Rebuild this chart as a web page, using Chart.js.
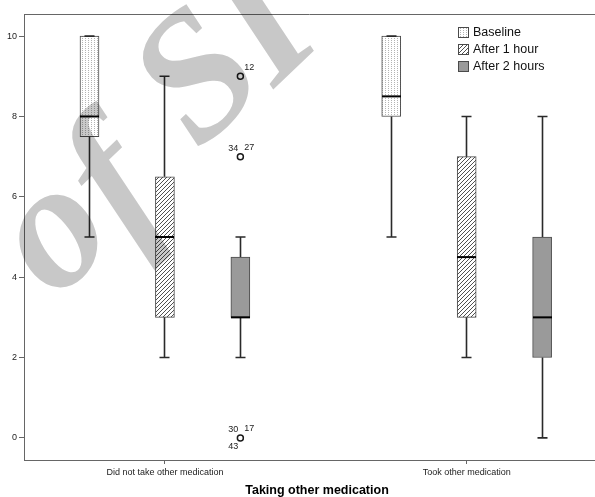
<!DOCTYPE html>
<html>
<head>
<meta charset="utf-8">
<script src="https://cdn.jsdelivr.net/npm/chart.js@4.4.0/dist/chart.umd.min.js"></script>
<style>
html, body { margin: 0; padding: 0; background: #fff; }
#wrap { width: 595px; height: 497px; }
</style>
</head>
<body>
<div id="wrap"><canvas id="chart"></canvas></div>
<script>
// categorias y series
const groups = ['Did not take other medication', 'Took other medication'];
const seriesNames = ['Baseline', 'After 1 hour', 'After 2 hours'];
// [min, q1, mediana, q3, max] por grupo
const baseline = [[5, 7.5, 8, 10, 10], [5, 8, 8.5, 10, 10]];
const after1h = [[2, 3, 5, 6.5, 9], [2, 3, 4.5, 7, 8]];
const after2h = [[2, 3, 3, 4.5, 5], [0, 2, 3, 5, 8]];
// valores atipicos (grupo 1, After 2 hours)
const outlierValues = [9, 7, 0];
const outlierCases = [['12'], ['34', '27'], ['30', '17', '43']];
const yTicks = [0, 2, 4, 6, 8, 10];
const xTitle = 'Taking other medication';
const watermark = ['o', 'f', 'S', 'I'];

const summaries = [baseline, after1h, after2h];
const offsets = [-0.25, 0, 0.25];
const BOX_W = 19;

function dotPattern() {
    const c = document.createElement('canvas');
    c.width = 3; c.height = 2;
    const g = c.getContext('2d');
    g.fillStyle = '#fff'; g.fillRect(0, 0, 3, 2);
    g.fillStyle = '#b4b4b4'; g.fillRect(1, 0, 1, 1);
    return g.createPattern(c, 'repeat');
}

function hatchPattern() {
    const c = document.createElement('canvas');
    c.width = 4; c.height = 4;
    const g = c.getContext('2d');
    g.fillStyle = '#fff'; g.fillRect(0, 0, 4, 4);
    g.strokeStyle = '#505050'; g.lineWidth = 1;
    g.beginPath();
    g.moveTo(0, 4); g.lineTo(4, 0);
    g.moveTo(-1, 1); g.lineTo(1, -1);
    g.moveTo(3, 5); g.lineTo(5, 3);
    g.stroke();
    return g.createPattern(c, 'repeat');
}

const fills = [dotPattern(), hatchPattern(), '#9a9a9a'];

const datasets = summaries.map((s, i) => ({
    type: 'bar',
    label: seriesNames[i],
    data: s.map((v, g) => ({x: g + 1 + offsets[i], y: [v[1], v[3]]})),
    backgroundColor: fills[i],
    borderColor: '#4a4a4a',
    borderWidth: 1,
    borderSkipped: false,
    barThickness: BOX_W,
    grouped: false
}));
datasets.push({
    type: 'scatter',
    label: 'outliers',
    data: outlierValues.map(v => ({x: 1 + offsets[2], y: v})),
    pointStyle: 'circle',
    radius: 3,
    borderColor: '#1a1a1a',
    borderWidth: 1.5,
    backgroundColor: 'rgba(0,0,0,0)'
});

const crisp = v => Math.round(v) + 0.5;

const boxPlugin = {
    id: 'boxExtras',
    afterDatasetsDraw(chart) {
        const {ctx, scales: {x, y}, chartArea} = chart;
        ctx.save();
        // marco: arriba y prolongacion del eje x hasta el borde
        ctx.strokeStyle = '#666'; ctx.lineWidth = 1;
        ctx.beginPath();
        ctx.moveTo(chartArea.left, crisp(chartArea.top));
        ctx.lineTo(chart.width, crisp(chartArea.top));
        ctx.moveTo(chartArea.right - 1, crisp(chartArea.bottom));
        ctx.lineTo(chart.width, crisp(chartArea.bottom));
        ctx.stroke();

        summaries.forEach((s, i) => s.forEach((v, g) => {
            const cx = crisp(x.getPixelForValue(g + 1 + offsets[i]) - 0.5);
            const yMin = y.getPixelForValue(v[0]);
            const yQ1 = y.getPixelForValue(v[1]);
            const yMed = y.getPixelForValue(v[2]);
            const yQ3 = y.getPixelForValue(v[3]);
            const yMax = y.getPixelForValue(v[4]);
            ctx.strokeStyle = '#2a2a2a'; ctx.lineWidth = 1.6;
            ctx.beginPath();
            ctx.moveTo(cx, yQ3); ctx.lineTo(cx, yMax);
            ctx.moveTo(cx, yQ1); ctx.lineTo(cx, yMin);
            ctx.moveTo(cx - 5, yMax); ctx.lineTo(cx + 5, yMax);
            ctx.moveTo(cx - 5, yMin); ctx.lineTo(cx + 5, yMin);
            ctx.stroke();
            ctx.strokeStyle = '#000'; ctx.lineWidth = 2;
            ctx.beginPath();
            ctx.moveTo(cx - BOX_W / 2, yMed); ctx.lineTo(cx + BOX_W / 2, yMed);
            ctx.stroke();
        }));

        // etiquetas de casos atipicos
        ctx.fillStyle = '#222';
        ctx.font = '9px "Liberation Sans", Arial, sans-serif';
        outlierValues.forEach((v, k) => {
            const px = x.getPixelForValue(1 + offsets[2]);
            const py = y.getPixelForValue(v);
            const ids = outlierCases[k];
            if (ids.length === 1) {
                ctx.textAlign = 'left'; ctx.textBaseline = 'bottom';
                ctx.fillText(ids[0], px + 4, py - 4);
            } else {
                ctx.textAlign = 'right'; ctx.textBaseline = 'bottom';
                ctx.fillText(ids[0], px - 2, py - 4);
                ctx.textAlign = 'left';
                ctx.fillText(ids[1], px + 4, py - 5);
                if (ids[2]) {
                    ctx.textAlign = 'right'; ctx.textBaseline = 'top';
                    ctx.fillText(ids[2], px - 2, py + 4);
                }
            }
        });
        ctx.restore();
    },
    afterDraw(chart) {
        const {ctx} = chart;
        ctx.save();
        // leyenda
        ctx.font = '12.5px "Liberation Sans", Arial, sans-serif';
        ctx.textAlign = 'left'; ctx.textBaseline = 'middle';
        seriesNames.forEach((name, i) => {
            const top = 27 + i * 17;
            ctx.fillStyle = fills[i];
            ctx.fillRect(458, top, 10, 10);
            ctx.strokeStyle = '#4a4a4a'; ctx.lineWidth = 1;
            ctx.strokeRect(458.5, top + 0.5, 10, 10);
            ctx.fillStyle = '#111';
            ctx.fillText(name, 473, top + 6);
        });
        // titulo del eje x
        ctx.font = 'bold 12.5px "Liberation Sans", Arial, sans-serif';
        ctx.textAlign = 'center'; ctx.textBaseline = 'middle';
        ctx.fillStyle = '#000';
        ctx.fillText(xTitle, 317, 491);
        // marca de agua (letra por letra)
        ctx.globalCompositeOperation = 'multiply';
        ctx.fillStyle = '#c8c8c8';
        ctx.font = 'bold italic 180px "Liberation Serif", serif';
        ctx.textAlign = 'center'; ctx.textBaseline = 'alphabetic';
        const spots = [[88, 270], [150, 222], [235, 117], [300, 64]];
        watermark.forEach((ch, i) => {
            ctx.save();
            ctx.translate(spots[i][0], spots[i][1]);
            ctx.rotate(-0.76);
            ctx.fillText(ch, 0, 0);
            ctx.restore();
        });
        ctx.restore();
    }
};

new Chart(document.getElementById('chart'), {
    data: {datasets},
    options: {
        responsive: true,
        maintainAspectRatio: false,
        animation: false,
        layout: {padding: {top: 14, right: 0, left: 0, bottom: 0}},
        plugins: {legend: {display: false}, tooltip: {enabled: false}},
        scales: {
            x: {
                type: 'linear',
                offset: false,
                min: 0.533,
                max: 2.407,
                afterBuildTicks: s => { s.ticks = groups.map((_, i) => ({value: i + 1})); },
                afterFit: s => { s.height = 37; s.paddingLeft = 0; s.paddingRight = 0; },
                ticks: {
                    callback: v => groups[Math.round(v) - 1],
                    font: {family: '"Liberation Sans", Arial, sans-serif', size: 9},
                    color: '#222',
                    padding: 3,
                    maxRotation: 0,
                    autoSkip: false
                },
                grid: {offset: false, drawOnChartArea: false, drawTicks: true, tickLength: 4, color: '#666'},
                border: {color: '#666', width: 1}
            },
            y: {
                min: -0.55,
                max: 10.55,
                afterBuildTicks: s => { s.ticks = yTicks.map(v => ({value: v})); },
                afterFit: s => { s.width = 24; },
                ticks: {
                    font: {family: '"Liberation Sans", Arial, sans-serif', size: 9},
                    color: '#222',
                    padding: 2
                },
                grid: {drawOnChartArea: false, drawTicks: true, tickLength: 5, color: '#666'},
                border: {color: '#666', width: 1}
            }
        }
    },
    plugins: [boxPlugin]
});
</script>
</body>
</html>
